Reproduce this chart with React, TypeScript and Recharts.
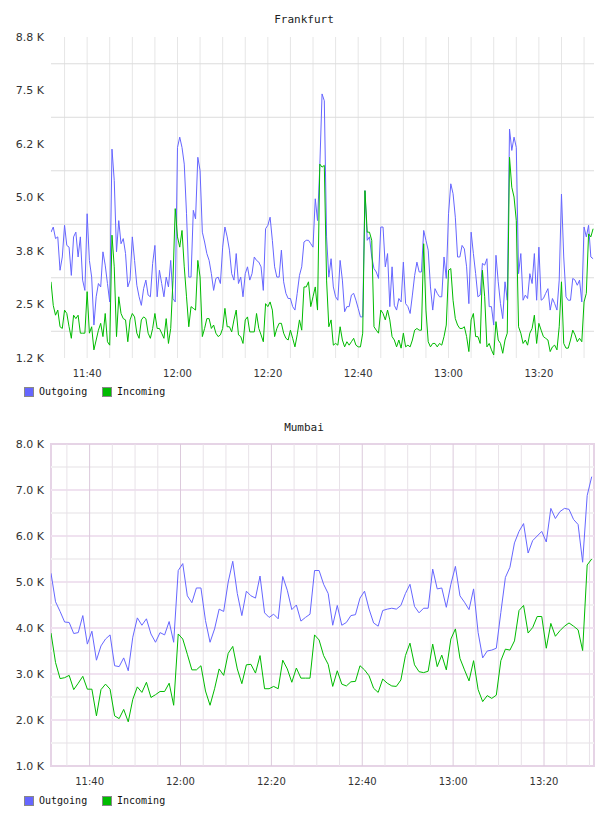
import React from 'react';
import { LineChart, Line, XAxis, YAxis, ReferenceLine, ReferenceArea } from 'recharts';

// time is minutes after midnight
const frankfurtStart = 692; // 11:32
const frankfurtStep = 0.5;
const frankfurtOutgoing = [
  4190, 4310, 4040, 4080, 3300, 3610, 4350, 3880, 3840, 3180,
  4080, 4190, 3610, 4080, 3070, 2830, 4620, 3530, 3140, 2020,
  2680, 2990, 2910, 3730, 3420, 2990, 2560, 6130, 5400, 3730,
  4460, 3920, 4040, 3690, 2910, 3070, 4080, 3530, 2950, 2680,
  2480, 2870, 3070, 2720, 2680, 3460, 3880, 2680, 3300, 2990,
  2680, 3140, 2910, 3530, 2640, 2560, 6170, 6410, 6170, 5780,
  4620, 3140, 3140, 4700, 4500, 5940, 5630, 4190, 3960, 3690,
  3530, 3220, 2830, 3110, 3140, 2990, 3840, 4310, 4080, 3770,
  3220, 3070, 3690, 2990, 3140, 2680, 3220, 3380, 3070, 3220,
  3610, 3530, 3490, 3380, 2830, 4270, 4350, 4540, 4000, 3380,
  3140, 3140, 3770, 3030, 2760, 2640, 2640, 2450, 2370, 2760,
  3180, 3380, 3960, 4000, 4000, 3920, 3840, 4970, 4460, 5710,
  7420, 7260, 4080, 3140, 3570, 2910, 2680, 2600, 3530, 3070,
  2330, 2450, 2450, 2720, 2760, 2600, 2410, 2210, 2210, 5160,
  4000, 4080, 3610, 3340, 3260, 3110, 4310, 4310, 3380, 3690,
  2450, 3380, 2480, 2370, 2640, 2560, 3490, 2520, 2450, 2290,
  2720, 3180, 3490, 3260, 3260, 4230, 4000, 3770, 2910, 2370,
  2870, 2760, 2680, 2680, 3610, 3110, 4620, 5320, 5090, 4540,
  3610, 3610, 3880, 3800, 3380, 2520, 4190, 3690, 3220, 2680,
  2720, 3460, 3420, 3570, 2450, 2450, 2020, 3650, 3030, 2520,
  2170, 3030, 2600, 6600, 6100, 6410, 6170, 3220, 3690, 2600,
  2720, 2640, 3220, 2990, 3690, 2600, 3840, 2600, 2640, 2760,
  2870, 2370, 2640, 2520, 2370, 3070, 5080, 3610, 2680, 2600,
  2600, 3110, 3070, 2950, 3070, 2560, 4310, 4080, 4350, 3610, 3570,
];
const frankfurtIncoming = [
  3030, 2480, 2250, 2370, 1980, 1940, 2370, 2290, 1980, 1710,
  2250, 2170, 2250, 1830, 1830, 1830, 2800, 1830, 1980, 1440,
  1670, 1900, 2060, 1750, 2290, 1630, 1550, 4120, 3380, 1750,
  2680, 2290, 2170, 2140, 1630, 2140, 2290, 2210, 1830, 1710,
  2140, 2210, 2170, 1830, 1710, 1940, 2290, 1940, 1940, 1830,
  1710, 2170, 1590, 1940, 3070, 4740, 4080, 3840, 4230, 3380,
  2680, 1980, 2450, 2410, 2370, 3530, 3140, 1750, 1940, 2170,
  2170, 1940, 2020, 1830, 1750, 1790, 1940, 2410, 1980, 1980,
  1860, 2140, 2370, 1790, 1750, 1590, 2140, 2210, 1860, 1860,
  1860, 2290, 1940, 1790, 1630, 2520, 2450, 2560, 2370, 1750,
  1940, 2060, 2060, 1830, 1710, 1670, 1900, 1710, 1510, 1790,
  2140, 1900, 2910, 2910, 3030, 2450, 2680, 2910, 2370, 5780,
  5710, 5750, 3070, 1980, 2140, 1550, 1590, 1550, 1980, 1670,
  1510, 1630, 1550, 1630, 1710, 1550, 1510, 1510, 1830, 5160,
  4190, 4190, 4000, 1980, 1900, 1830, 2370, 2290, 2140, 2370,
  2140, 1750, 1670, 1510, 1670, 1480, 1830, 1510, 1550, 1510,
  1670, 1900, 1940, 1900, 1900, 3920, 2370, 1630, 1510, 1590,
  1590, 1510, 1590, 1550, 1750, 2020, 3300, 3340, 2600, 2170,
  2020, 1940, 1940, 1980, 1750, 1400, 2140, 2290, 1750, 1750,
  1590, 3300, 2680, 1510, 1590, 1440, 1320, 2100, 1670, 1590,
  1360, 1670, 1830, 5940, 5240, 5010, 4460, 1980, 1830, 1590,
  1670, 1550, 1830, 1940, 2250, 1590, 2060, 1900, 1750, 1710,
  1670, 1400, 1510, 1550, 1440, 1980, 3030, 1590, 1480, 1480,
  1670, 1900, 1790, 1630, 1710, 1630, 2560, 2760, 4150, 4080, 4270,
];
const frankfurtYTicks = [1250, 2500, 3750, 5000, 6250, 7500, 8750];
const frankfurtYLabels = ['1.2 K', '2.5 K', '3.8 K', '5.0 K', '6.2 K', '7.5 K', '8.8 K'];
const frankfurtGridY = [1875, 3125, 4375, 5625, 6875, 8125];

const mumbaiStart = 691.5; // 11:31:30
const mumbaiStep = 1;
const mumbaiOutgoing = [
  5190, 4570, 4360, 4130, 4120, 3880, 3900, 4270, 3650, 3930,
  3300, 3610, 3760, 3850, 3180, 3160, 3350, 3070, 3800, 4220,
  4060, 4200, 3870, 3690, 3900, 3850, 4140, 3690, 5250, 5400,
  4700, 4550, 4870, 4870, 4160, 3690, 3980, 4410, 4360, 5000,
  5450, 4750, 4270, 4800, 4700, 4650, 5130, 4330, 4230, 4300,
  4200, 5120, 4820, 4400, 4500, 4150, 4230, 4300, 5250, 5250,
  4950, 4750, 4060, 4490, 4060, 4120, 4270, 4290, 4650, 4800,
  4410, 4110, 4040, 4380, 4410, 4430, 4410, 4490, 4750, 4950,
  4470, 4330, 4430, 4430, 5280, 4850, 4870, 4450, 4950, 5340,
  4700, 4560, 4400, 4850, 3900, 3350, 3500, 3520, 3560, 4340,
  5100, 5320, 5850, 6100, 6270, 5630, 5900, 6000, 6100, 5870,
  6600, 6380, 6530, 6600, 6580, 6360, 6250, 5430, 6880, 7290,
];
const mumbaiIncoming = [
  3890, 3250, 2900, 2920, 2970, 2660, 2800, 2950, 2670, 2670,
  2090, 2660, 2780, 2670, 2090, 2030, 2230, 1960, 2450, 2720,
  2600, 2820, 2490, 2550, 2620, 2620, 2800, 2320, 3870, 3760,
  3430, 3090, 3090, 3180, 2630, 2320, 2680, 3110, 2970, 3450,
  3600, 3110, 2790, 3200, 3210, 3020, 3400, 2680, 2680, 2730,
  2680, 3300, 3110, 2820, 3130, 2910, 2910, 2910, 3850, 3740,
  3400, 3210, 2730, 3070, 2780, 2740, 2830, 2840, 3180, 3090,
  2960, 2690, 2600, 2890, 2800, 2740, 2730, 2870, 3400, 3670,
  3200, 3050, 3030, 3060, 3650, 3160, 3410, 3090, 3760, 3980,
  3340, 3090, 2850, 3290, 2660, 2400, 2530, 2470, 2540, 3290,
  3540, 3520, 3720, 4380, 4490, 3890, 4010, 4250, 4250, 3560,
  4100, 3820, 3940, 4040, 4110, 4040, 3960, 3510, 5370, 5500,
];
const mumbaiYTicks = [1000, 2000, 3000, 4000, 5000, 6000, 7000, 8000];
const mumbaiYLabels = ['1.0 K', '2.0 K', '3.0 K', '4.0 K', '5.0 K', '6.0 K', '7.0 K', '8.0 K'];
const mumbaiMajorY = [2000, 3000, 4000, 5000, 6000, 7000];
const mumbaiMinorY = [1500, 2500, 3500, 4500, 5500, 6500, 7500];

const timeTicks = [700, 720, 740, 760, 780, 800];
const fiveMinutes = [695, 700, 705, 710, 715, 720, 725, 730, 735, 740, 745, 750,
  755, 760, 765, 770, 775, 780, 785, 790, 795, 800, 805, 810];

const BLUE = '#6666ff';
const GREEN = '#00bb00';

const rows = (start: number, step: number, out: number[], inc: number[]) =>
  out.map((v, i) => ({ t: start + i * step, out: v, inc: inc[i] }));

const frankfurtRows = rows(frankfurtStart, frankfurtStep, frankfurtOutgoing, frankfurtIncoming);
const mumbaiRows = rows(mumbaiStart, mumbaiStep, mumbaiOutgoing, mumbaiIncoming);

const clock = (m: number) => `${Math.floor(m / 60)}:${String(m % 60).padStart(2, '0')}`;

const XTick = (p: any) => (
  <text x={p.x} y={p.y + 15} textAnchor="middle" dominantBaseline="central"
    fontSize={10} fill="#333" fontFamily="DejaVu Sans">{clock(p.payload.value)}</text>
);

const makeYTick = (ticks: number[], labels: string[]) => (p: any) => (
  <text x={p.x - 7} y={p.y} textAnchor="end" dominantBaseline="central"
    fontSize={11} fill="#333" fontFamily="DejaVu Sans">{labels[ticks.indexOf(p.payload.value)]}</text>
);

const Title = ({ top, text }: { top: number; text: string }) => (
  <div style={{ position: 'absolute', top, left: 0, width: 608, textAlign: 'center',
    font: '11px "DejaVu Sans Mono", monospace', color: '#222', lineHeight: '14px' }}>{text}</div>
);

const LegendRow = ({ top }: { top: number }) => (
  <div style={{ position: 'absolute', top, left: 0, font: '10px "DejaVu Sans Mono", monospace', color: '#111' }}>
    {[{ c: BLUE, n: 'Outgoing', x: 24 }, { c: GREEN, n: 'Incoming', x: 102 }].map((s) => (
      <div key={s.n} style={{ position: 'absolute', left: s.x, top: 0, display: 'flex', alignItems: 'center', whiteSpace: 'nowrap' }}>
        <span style={{ width: 10, height: 10, boxSizing: 'border-box', background: s.c, border: '1px solid #888', display: 'inline-block' }} />
        <span style={{ marginLeft: 5, lineHeight: '10px' }}>{s.n}</span>
      </div>
    ))}
  </div>
);

export default function App() {
  return (
    <div style={{ position: 'absolute', left: 0, top: 0, width: 608, height: 816, background: '#fff' }}>
      <Title top={13} text="Frankfurt" />
      <div style={{ position: 'absolute', left: 0, top: 0 }}>
        <LineChart width={608} height={405} data={frankfurtRows} margin={{ top: 37, right: 14, bottom: 17, left: 0 }}>
          <XAxis type="number" dataKey="t" domain={[692, 812.2]} ticks={timeTicks} axisLine={false}
            tickLine={false} tickSize={0} tickMargin={0} height={30} tick={XTick} allowDataOverflow />
          <YAxis type="number" domain={[1250, 8750]} ticks={frankfurtYTicks} axisLine={false} tickLine={false}
            tickSize={0} tickMargin={0} width={51} tick={makeYTick(frankfurtYTicks, frankfurtYLabels)} allowDataOverflow />
          {fiveMinutes.map((m) => (
            <ReferenceLine key={'v' + m} x={m} stroke="#e6e6e6" strokeWidth={1} />
          ))}
          {frankfurtGridY.map((v) => (
            <ReferenceLine key={'h' + v} y={v} stroke="#dcdcdc" strokeWidth={1} />
          ))}
          <Line type="linear" dataKey="out" stroke={BLUE} strokeWidth={1} dot={false} isAnimationActive={false} />
          <Line type="linear" dataKey="inc" stroke={GREEN} strokeWidth={1} dot={false} isAnimationActive={false} />
        </LineChart>
      </div>
      <LegendRow top={387} />

      <Title top={421} text="Mumbai" />
      <div style={{ position: 'absolute', left: 0, top: 408 }}>
        <LineChart width={608} height={408} data={mumbaiRows} margin={{ top: 36, right: 14, bottom: 20, left: 0 }}>
          <XAxis type="number" dataKey="t" domain={[691.5, 811]} ticks={timeTicks} axisLine={false}
            tickLine={false} tickSize={0} tickMargin={0} height={30} tick={XTick} allowDataOverflow />
          <YAxis type="number" domain={[1000, 8000]} ticks={mumbaiYTicks} axisLine={false} tickLine={false}
            tickSize={0} tickMargin={0} width={51} tick={makeYTick(mumbaiYTicks, mumbaiYLabels)} allowDataOverflow />
          {mumbaiMinorY.map((v) => (
            <ReferenceLine key={'hm' + v} y={v} stroke="#f2f0f2" strokeWidth={2} />
          ))}
          {mumbaiMajorY.map((v) => (
            <ReferenceLine key={'hM' + v} y={v} stroke="#f0e2f0" strokeWidth={2} />
          ))}
          {fiveMinutes.filter((m) => !timeTicks.includes(m)).map((m) => (
            <ReferenceLine key={'vm' + m} x={m} stroke="#e8e2e8" strokeWidth={1} />
          ))}
          {timeTicks.map((m) => (
            <ReferenceLine key={'vM' + m} x={m} stroke="#dccadc" strokeWidth={1} />
          ))}
          <ReferenceArea x1={691.5} x2={811} y1={1000} y2={8000} fill="none" fillOpacity={0} stroke="#e6d4e6" strokeWidth={2} />
          <Line type="linear" dataKey="out" stroke={BLUE} strokeWidth={1} dot={false} isAnimationActive={false} />
          <Line type="linear" dataKey="inc" stroke={GREEN} strokeWidth={1} dot={false} isAnimationActive={false} />
        </LineChart>
      </div>
      <LegendRow top={796} />
    </div>
  );
}
